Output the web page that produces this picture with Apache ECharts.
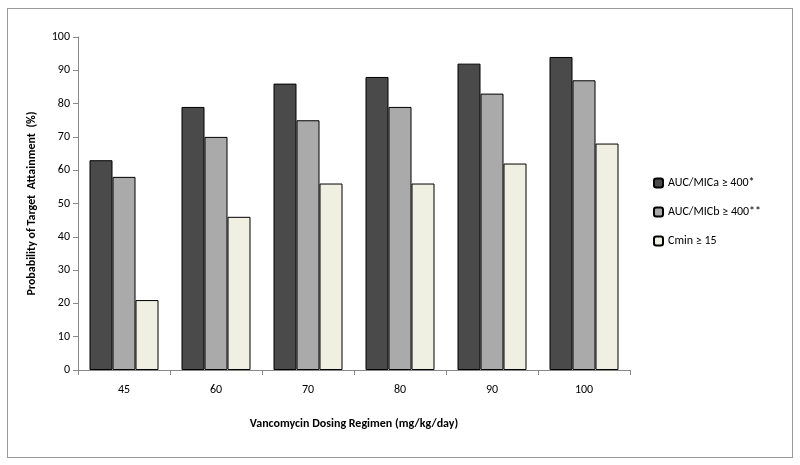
<!DOCTYPE html>
<html><head><meta charset="utf-8">
<script src="https://cdn.jsdelivr.net/npm/echarts@6/dist/echarts.min.js"></script>
<style>
html,body{margin:0;padding:0;background:#fff;}
#frame{position:absolute;left:7px;top:8px;width:784px;height:448px;border:1px solid #999;}
#chart{position:absolute;left:0;top:0;width:800px;height:465px;}
</style></head>
<body>
<div id="frame"></div>
<div id="chart"></div>
<script>
const categories = ["45", "60", "70", "80", "90", "100"];
const aucMicA = [63, 79, 86, 88, 92, 94];
const aucMicB = [58, 70, 75, 79, 83, 87];
const cmin = [21, 46, 56, 56, 62, 68];
const yTicks = { min: 0, max: 100, interval: 10 };

const chart = echarts.init(document.getElementById("chart"));
const font = "Calibri, Carlito, 'Liberation Sans', sans-serif";
const bar = (name, data, color) => ({
  name, type: "bar", data, barWidth: 23, barGap: "0%",
  itemStyle: { color, borderColor: "#000", borderWidth: 1 }
});

chart.setOption({
  animation: false,
  textStyle: { fontFamily: font },
  grid: { left: 78, right: 170, top: 37, bottom: 95 },
  legend: {
    orient: "vertical", left: 648, top: 172, itemGap: 17,
    itemWidth: 9, itemHeight: 9,
    textStyle: { fontSize: 12, color: "#000", fontFamily: font },
    data: ["AUC/MICa ≥ 400*", "AUC/MICb ≥ 400**", "Cmin ≥ 15"]
  },
  xAxis: {
    type: "category", data: categories,
    name: "Vancomycin Dosing Regimen (mg/kg/day)", nameLocation: "middle", nameGap: 48,
    nameTextStyle: { fontWeight: "bold", fontSize: 12, color: "#000" },
    axisLine: { lineStyle: { color: "#888" } },
    axisTick: { show: true, alignWithLabel: false, lineStyle: { color: "#888" } },
    axisLabel: { color: "#000", fontSize: 12, margin: 14 }
  },
  yAxis: {
    type: "value", min: yTicks.min, max: yTicks.max, interval: yTicks.interval,
    name: "Probability of Target  Attainment  (%)", nameLocation: "middle", nameGap: 40,
    nameTextStyle: { fontWeight: "bold", fontSize: 12, color: "#000" },
    axisLine: { show: true, lineStyle: { color: "#888" } },
    axisTick: { show: true, lineStyle: { color: "#888" } },
    axisLabel: { color: "#000", fontSize: 12 },
    splitLine: { show: false }
  },
  series: [
    bar("AUC/MICa ≥ 400*", aucMicA, "#4a4a4a"),
    bar("AUC/MICb ≥ 400**", aucMicB, "#aaaaaa"),
    bar("Cmin ≥ 15", cmin, "#eff0e2")
  ]
});
</script>
</body></html>
